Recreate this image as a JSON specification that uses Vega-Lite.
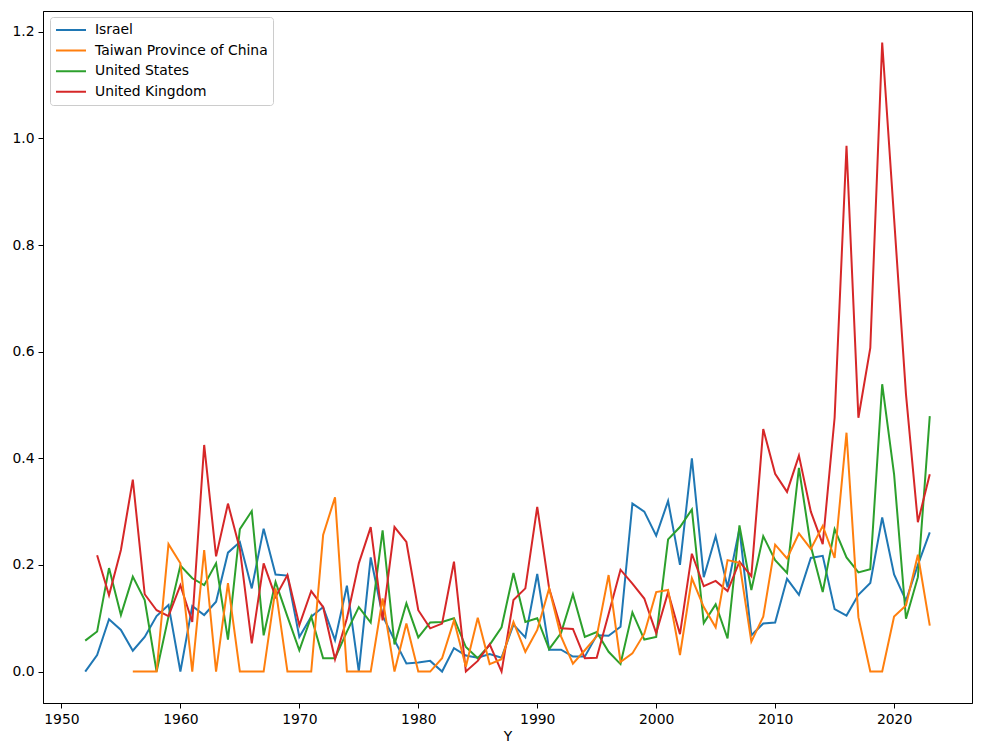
{
  "$schema": "https://vega.github.io/schema/vega-lite/v6.json",
  "width": 929,
  "height": 692,
  "autosize": {"type": "none"},
  "padding": {"left": 43, "top": 11, "right": 9, "bottom": 53},
  "background": "white",
  "config": {
    "font": "DejaVu Sans",
    "view": {"stroke": "black", "strokeWidth": 1},
    "axis": {
      "grid": false,
      "domainColor": "black",
      "tickColor": "black",
      "tickSize": 5,
      "labelColor": "black",
      "labelFontSize": 13.9,
      "labelPadding": 4,
      "titleFontSize": 13.9,
      "titleFontWeight": "normal",
      "titleColor": "black"
    }
  },
  "data": {
    "values": [
      {"Y": 1952, "Israel": 0.0, "Taiwan Province of China": null, "United States": 0.058, "United Kingdom": null},
      {"Y": 1953, "Israel": 0.031, "Taiwan Province of China": null, "United States": 0.075, "United Kingdom": 0.218},
      {"Y": 1954, "Israel": 0.098, "Taiwan Province of China": null, "United States": 0.194, "United Kingdom": 0.143},
      {"Y": 1955, "Israel": 0.078, "Taiwan Province of China": null, "United States": 0.106, "United Kingdom": 0.228},
      {"Y": 1956, "Israel": 0.039, "Taiwan Province of China": 0.0, "United States": 0.178, "United Kingdom": 0.36},
      {"Y": 1957, "Israel": 0.065, "Taiwan Province of China": 0.0, "United States": 0.134, "United Kingdom": 0.145},
      {"Y": 1958, "Israel": 0.104, "Taiwan Province of China": 0.0, "United States": 0.0, "United Kingdom": 0.115},
      {"Y": 1959, "Israel": 0.125, "Taiwan Province of China": 0.239, "United States": 0.103, "United Kingdom": 0.104},
      {"Y": 1960, "Israel": 0.0, "Taiwan Province of China": 0.203, "United States": 0.199, "United Kingdom": 0.162},
      {"Y": 1961, "Israel": 0.123, "Taiwan Province of China": 0.0, "United States": 0.175, "United Kingdom": 0.093},
      {"Y": 1962, "Israel": 0.106, "Taiwan Province of China": 0.228, "United States": 0.162, "United Kingdom": 0.425},
      {"Y": 1963, "Israel": 0.131, "Taiwan Province of China": 0.0, "United States": 0.203, "United Kingdom": 0.216},
      {"Y": 1964, "Israel": 0.223, "Taiwan Province of China": 0.166, "United States": 0.06, "United Kingdom": 0.315},
      {"Y": 1965, "Israel": 0.243, "Taiwan Province of China": 0.0, "United States": 0.267, "United Kingdom": 0.23},
      {"Y": 1966, "Israel": 0.156, "Taiwan Province of China": 0.0, "United States": 0.301, "United Kingdom": 0.053},
      {"Y": 1967, "Israel": 0.268, "Taiwan Province of China": 0.0, "United States": 0.068, "United Kingdom": 0.203},
      {"Y": 1968, "Israel": 0.182, "Taiwan Province of China": 0.156, "United States": 0.168, "United Kingdom": 0.14},
      {"Y": 1969, "Israel": 0.18, "Taiwan Province of China": 0.0, "United States": 0.103, "United Kingdom": 0.181},
      {"Y": 1970, "Israel": 0.065, "Taiwan Province of China": 0.0, "United States": 0.04, "United Kingdom": 0.087},
      {"Y": 1971, "Israel": 0.103, "Taiwan Province of China": 0.0, "United States": 0.103, "United Kingdom": 0.151},
      {"Y": 1972, "Israel": 0.121, "Taiwan Province of China": 0.256, "United States": 0.025, "United Kingdom": 0.121},
      {"Y": 1973, "Israel": 0.059, "Taiwan Province of China": 0.327, "United States": 0.025, "United Kingdom": 0.023},
      {"Y": 1974, "Israel": 0.161, "Taiwan Province of China": 0.0, "United States": 0.075, "United Kingdom": 0.1},
      {"Y": 1975, "Israel": 0.0, "Taiwan Province of China": 0.0, "United States": 0.121, "United Kingdom": 0.203},
      {"Y": 1976, "Israel": 0.214, "Taiwan Province of China": 0.0, "United States": 0.092, "United Kingdom": 0.271},
      {"Y": 1977, "Israel": 0.105, "Taiwan Province of China": 0.137, "United States": 0.265, "United Kingdom": 0.096},
      {"Y": 1978, "Israel": 0.059, "Taiwan Province of China": 0.0, "United States": 0.051, "United Kingdom": 0.271},
      {"Y": 1979, "Israel": 0.015, "Taiwan Province of China": 0.09, "United States": 0.128, "United Kingdom": 0.243},
      {"Y": 1980, "Israel": 0.017, "Taiwan Province of China": 0.0, "United States": 0.064, "United Kingdom": 0.115},
      {"Y": 1981, "Israel": 0.02, "Taiwan Province of China": 0.0, "United States": 0.092, "United Kingdom": 0.081},
      {"Y": 1982, "Israel": 0.0, "Taiwan Province of China": 0.025, "United States": 0.093, "United Kingdom": 0.09},
      {"Y": 1983, "Israel": 0.044, "Taiwan Province of China": 0.096, "United States": 0.1, "United Kingdom": 0.206},
      {"Y": 1984, "Israel": 0.03, "Taiwan Province of China": 0.009, "United States": 0.046, "United Kingdom": 0.0},
      {"Y": 1985, "Israel": 0.026, "Taiwan Province of China": 0.101, "United States": 0.025, "United Kingdom": 0.02},
      {"Y": 1986, "Israel": 0.033, "Taiwan Province of China": 0.014, "United States": 0.05, "United Kingdom": 0.051},
      {"Y": 1987, "Israel": 0.026, "Taiwan Province of China": 0.023, "United States": 0.083, "United Kingdom": 0.0},
      {"Y": 1988, "Israel": 0.088, "Taiwan Province of China": 0.093, "United States": 0.185, "United Kingdom": 0.134},
      {"Y": 1989, "Israel": 0.064, "Taiwan Province of China": 0.037, "United States": 0.093, "United Kingdom": 0.156},
      {"Y": 1990, "Israel": 0.183, "Taiwan Province of China": 0.078, "United States": 0.1, "United Kingdom": 0.309},
      {"Y": 1991, "Israel": 0.041, "Taiwan Province of China": 0.156, "United States": 0.042, "United Kingdom": 0.156},
      {"Y": 1992, "Israel": 0.041, "Taiwan Province of China": 0.066, "United States": 0.072, "United Kingdom": 0.081},
      {"Y": 1993, "Israel": 0.028, "Taiwan Province of China": 0.015, "United States": 0.145, "United Kingdom": 0.08},
      {"Y": 1994, "Israel": 0.028, "Taiwan Province of China": 0.04, "United States": 0.065, "United Kingdom": 0.025},
      {"Y": 1995, "Israel": 0.068, "Taiwan Province of China": 0.066, "United States": 0.074, "United Kingdom": 0.026},
      {"Y": 1996, "Israel": 0.067, "Taiwan Province of China": 0.181, "United States": 0.037, "United Kingdom": 0.108},
      {"Y": 1997, "Israel": 0.084, "Taiwan Province of China": 0.018, "United States": 0.014, "United Kingdom": 0.191},
      {"Y": 1998, "Israel": 0.315, "Taiwan Province of China": 0.034, "United States": 0.111, "United Kingdom": 0.165},
      {"Y": 1999, "Israel": 0.3, "Taiwan Province of China": 0.071, "United States": 0.06, "United Kingdom": 0.137},
      {"Y": 2000, "Israel": 0.255, "Taiwan Province of China": 0.149, "United States": 0.065, "United Kingdom": 0.072},
      {"Y": 2001, "Israel": 0.32, "Taiwan Province of China": 0.153, "United States": 0.248, "United Kingdom": 0.149},
      {"Y": 2002, "Israel": 0.2, "Taiwan Province of China": 0.031, "United States": 0.271, "United Kingdom": 0.07},
      {"Y": 2003, "Israel": 0.4, "Taiwan Province of China": 0.175, "United States": 0.304, "United Kingdom": 0.221},
      {"Y": 2004, "Israel": 0.177, "Taiwan Province of China": 0.121, "United States": 0.091, "United Kingdom": 0.16},
      {"Y": 2005, "Israel": 0.254, "Taiwan Province of China": 0.083, "United States": 0.126, "United Kingdom": 0.17},
      {"Y": 2006, "Israel": 0.158, "Taiwan Province of China": 0.209, "United States": 0.062, "United Kingdom": 0.151},
      {"Y": 2007, "Israel": 0.268, "Taiwan Province of China": 0.204, "United States": 0.274, "United Kingdom": 0.206},
      {"Y": 2008, "Israel": 0.068, "Taiwan Province of China": 0.056, "United States": 0.153, "United Kingdom": 0.179},
      {"Y": 2009, "Israel": 0.09, "Taiwan Province of China": 0.103, "United States": 0.254, "United Kingdom": 0.455},
      {"Y": 2010, "Israel": 0.092, "Taiwan Province of China": 0.238, "United States": 0.209, "United Kingdom": 0.371},
      {"Y": 2011, "Israel": 0.174, "Taiwan Province of China": 0.212, "United States": 0.185, "United Kingdom": 0.337},
      {"Y": 2012, "Israel": 0.144, "Taiwan Province of China": 0.259, "United States": 0.382, "United Kingdom": 0.405},
      {"Y": 2013, "Israel": 0.213, "Taiwan Province of China": 0.23, "United States": 0.235, "United Kingdom": 0.3},
      {"Y": 2014, "Israel": 0.217, "Taiwan Province of China": 0.273, "United States": 0.149, "United Kingdom": 0.239},
      {"Y": 2015, "Israel": 0.117, "Taiwan Province of China": 0.213, "United States": 0.267, "United Kingdom": 0.476},
      {"Y": 2016, "Israel": 0.105, "Taiwan Province of China": 0.448, "United States": 0.214, "United Kingdom": 0.986},
      {"Y": 2017, "Israel": 0.144, "Taiwan Province of China": 0.102, "United States": 0.186, "United Kingdom": 0.476},
      {"Y": 2018, "Israel": 0.166, "Taiwan Province of China": 0.0, "United States": 0.192, "United Kingdom": 0.607},
      {"Y": 2019, "Israel": 0.289, "Taiwan Province of China": 0.0, "United States": 0.539, "United Kingdom": 1.18},
      {"Y": 2020, "Israel": 0.182, "Taiwan Province of China": 0.103, "United States": 0.37, "United Kingdom": 0.85},
      {"Y": 2021, "Israel": 0.133, "Taiwan Province of China": 0.124, "United States": 0.099, "United Kingdom": 0.52},
      {"Y": 2022, "Israel": 0.2, "Taiwan Province of China": 0.219, "United States": 0.177, "United Kingdom": 0.28},
      {"Y": 2023, "Israel": 0.261, "Taiwan Province of China": 0.086, "United States": 0.479, "United Kingdom": 0.37}
    ]
  },
  "transform": [
    {"fold": ["Israel", "Taiwan Province of China", "United States", "United Kingdom"], "as": ["country", "value"]},
    {"filter": "datum.value != null"}
  ],
  "mark": {"type": "line", "strokeWidth": 2, "clip": true},
  "encoding": {
    "x": {
      "field": "Y",
      "type": "quantitative",
      "title": "Y",
      "scale": {"domain": [1948.45, 2026.55], "nice": false, "zero": false},
      "axis": {"values": [1950, 1960, 1970, 1980, 1990, 2000, 2010, 2020], "format": "d", "titlePadding": 4}
    },
    "y": {
      "field": "value",
      "type": "quantitative",
      "title": null,
      "scale": {"domain": [-0.059, 1.239], "nice": false, "zero": false},
      "axis": {"values": [0, 0.2, 0.4, 0.6, 0.8, 1.0, 1.2], "format": ".1f"}
    },
    "color": {
      "field": "country",
      "type": "nominal",
      "sort": ["Israel", "Taiwan Province of China", "United States", "United Kingdom"],
      "scale": {
        "domain": ["Israel", "Taiwan Province of China", "United States", "United Kingdom"],
        "range": ["#1f77b4", "#ff7f0e", "#2ca02c", "#d62728"]
      },
      "legend": {
        "title": null,
        "orient": "none",
        "legendX": 7,
        "legendY": 6,
        "symbolType": "stroke",
        "symbolSize": 900,
        "symbolStrokeWidth": 2,
        "clipHeight": 16,
        "rowPadding": 4.6,
        "labelFontSize": 13.9,
        "labelColor": "black",
        "labelOffset": 8,
        "labelLimit": 400,
        "padding": 5,
        "strokeColor": "#cccccc",
        "fillColor": "white",
        "cornerRadius": 3
      }
    }
  }
}
